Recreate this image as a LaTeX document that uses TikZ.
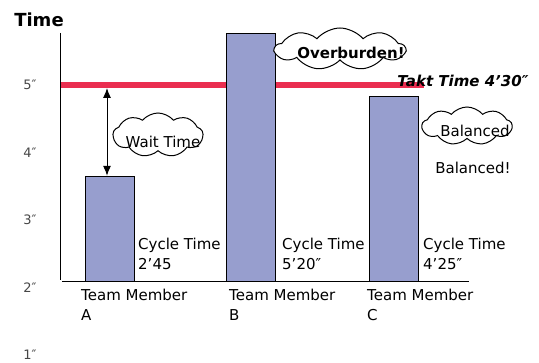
\documentclass[tikz,border=0pt]{standalone}
\usepackage{fontspec}
\setmainfont{DejaVu Sans}
\definecolor{barfill}{RGB}{151, 158, 206}
\definecolor{taktred}{RGB}{234, 46, 80}
\definecolor{ticktext}{RGB}{70, 70, 70}
\usetikzlibrary{shapes.symbols, arrows.meta}
\tikzset{
    bar/.style={draw, fill=barfill, line width=1.2pt, inner sep=0pt,
        minimum width=49pt, anchor=south west},
    puff/.style={cloud, cloud puffs=9, cloud puff arc=100,
        cloud ignores aspect, draw, fill=white, line width=1pt, inner sep=0pt},
    lbl/.style={inner sep=0pt, font=\fontsize{15}{20}\selectfont, align=left},
    tick/.style={inner sep=0pt, text=ticktext, font=\fontsize{13}{15}\selectfont},
}

\begin{document}
\begin{tikzpicture}[x=1pt, y=-1pt]
    \useasboundingbox (0, 0) rectangle (539, 363);
    \node[inner sep=0pt, font=\bfseries\fontsize{18}{20}\selectfont] (title)
        at (39, 20) {Time};
    \foreach \v [count=\i from 0] in {5, 4, 3, 2, 1}
        \node[tick] (tick\v) at (30, {85 + 67.5*\i}) {\v″};
    % takt line, bar B sits on top of it
    \draw[taktred, line width=6.5pt] (60, 85) -- (424, 85);
    \node[bar, minimum height=105pt] (barA) at (85, 282) {};
    \node[bar, minimum height=248pt] (barB) at (226, 282) {};
    \node[bar, minimum height=185pt] (barC) at (369, 282) {};
    \draw[line width=1pt] (60, 33) -- (60, 280);
    \draw[line width=1pt] (62, 282) -- (469, 282);
    \node[inner sep=0pt, font=\bfseries\itshape\fontsize{15}{18}\selectfont]
        (takt) at (463, 81) {Takt Time 4’30″};
    % wait time arrow
    \coordinate (waittop) at (107, 88);
    \draw[{Latex[length=10pt, width=8pt]}-{Latex[length=10pt, width=8pt]},
        line width=1pt] (waittop) -- (waittop |- barA.north);
    % clouds
    \node[puff, minimum width=90pt, minimum height=44pt] (waitcloud)
        at (158, 135) {};
    \node[lbl] (waittext) at (163, 142) {Wait Time};
    \node[puff, minimum width=130pt, minimum height=42pt] (overcloud)
        at (340, 49) {};
    \node[lbl, font=\bfseries\fontsize{15}{18}\selectfont] (overtext)
        at (351, 53) {Overburden!};
    \node[puff, minimum width=90pt, minimum height=38pt] (balcloud)
        at (467, 126) {};
    \node[lbl] (baltext) at (475, 131) {Balanced};
    \node[lbl] (balnote) at (473, 168) {Balanced!};
    % labels
    \node[lbl, anchor=west] (cycleA) at (138, 254) {Cycle Time\\2’45};
    \node[lbl, anchor=west] (cycleB) at (282, 254) {Cycle Time\\5’20″};
    \node[lbl, anchor=west] (cycleC) at (423, 254) {Cycle Time\\4’25″};
    \node[lbl, anchor=west] (memberA) at (81, 305) {Team Member\\A};
    \node[lbl, anchor=west] (memberB) at (229, 305) {Team Member\\B};
    \node[lbl, anchor=west] (memberC) at (367, 305) {Team Member\\C};
\end{tikzpicture}
\end{document}
